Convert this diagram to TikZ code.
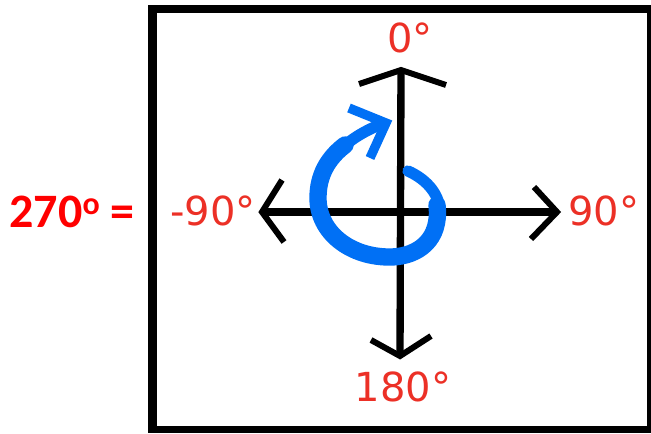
\documentclass[tikz,border=0pt]{standalone}
\usepackage{fontspec}
\setmainfont{DejaVu Sans}
\newfontfamily\carlito{Carlito}
\definecolor{lblred}{RGB}{236,48,38}
\definecolor{curlblue}{RGB}{0,112,245}
\begin{document}
\begin{tikzpicture}[x=0.75pt,y=-0.75pt,
  axis/.style={line width=5.5pt,black},
  wing/.style={line width=4.5pt,black,line join=miter,miter limit=10},
  curl/.style={curlblue,line cap=round,line join=round},
  lbl/.style={text=lblred,font=\fontsize{30}{32}\selectfont,inner sep=0pt}]
\useasboundingbox (0,0) rectangle (651,433);
% frame
\fill[black] (148,5) rectangle (651,433);
\fill[white] (157,13) rectangle (647,426);
% axes
\coordinate (top) at (401,70);
\coordinate (bot) at (400,356);
\coordinate (lft) at (262,212);
\coordinate (rgt) at (557,212);
\draw[axis] (top) -- (bot);
\draw[axis] (lft) -- (rgt);
\draw[wing] (359,84) -- (top) -- (446,85);
\draw[wing] (282,180) -- (lft) -- (284,242);
\draw[wing] (534,187) -- (rgt) -- (531,239);
\draw[wing] (371,340) -- (bot) -- (431,336);
% blue curl
\draw[curl,line width=8.5pt] (408,171) .. controls (428,180) and (441,196) .. (440,215)
  .. controls (439,240) and (418,256) .. (392,257)
  .. controls (350,258) and (318,232) .. (318,198)
  .. controls (318,165) and (345,138) .. (382,124);
\draw[curl,line width=13pt] (437,205) .. controls (441,240) and (418,256) .. (392,257)
  .. controls (350,258) and (318,232) .. (318,198)
  .. controls (318,175) and (328,158) .. (345,145);
\draw[curl,line width=7pt,line cap=butt,line join=miter] (349,108) -- (386,123) -- (370,158);
% labels
\node[lbl] (l0) at (410,38) {0°};
\node[lbl] (l90) at (604,211) {90°};
\node[lbl] (lm90) at (213,211) {-90°};
\node[lbl] (l180) at (403,387) {180°};
\node[text=red,font=\carlito\bfseries\fontsize{36}{38}\selectfont,inner sep=0pt] (l270) at (72,212) {270\raisebox{0.55ex}{\fontsize{24}{26}\selectfont o} =};
\end{tikzpicture}
\end{document}
